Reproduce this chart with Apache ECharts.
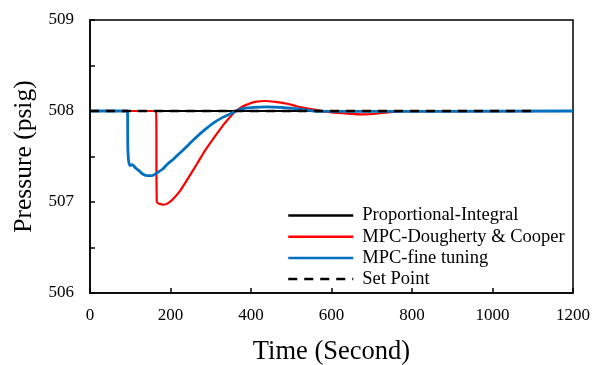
<!DOCTYPE html>
<html>
<head>
<meta charset="utf-8">
<script src="https://cdn.jsdelivr.net/npm/echarts@6/dist/echarts.min.js"></script>
<style>
  html, body { margin: 0; padding: 0; background: #fff; }
  #chart { width: 592px; height: 365px; }
</style>
</head>
<body>
<div id="chart"></div>
<script>
// time (s) and pressure (psig)
const piTime = [0, 1200];
const piPressure = [508, 508];

const redTime = [0, 164, 166, 172, 183, 195, 210, 225, 245, 266, 285, 307, 330, 349, 360, 375, 390, 410, 436, 460, 490, 515, 550, 590, 630, 680, 710, 740, 780, 1200];
const redPressure = [508, 508, 507.0, 506.98, 506.97, 506.99, 507.05, 507.13, 507.27, 507.42, 507.56, 507.70, 507.84, 507.94, 507.99, 508.04, 508.07, 508.10, 508.11, 508.10, 508.08, 508.05, 508.02, 507.99, 507.975, 507.963, 507.97, 507.985, 507.997, 508];

const blueTime = [0, 93, 94, 96, 100, 104, 108, 114, 120, 130, 141, 154, 166, 180, 191, 207, 224, 245, 266, 287, 307, 330, 349, 374, 407, 440, 473, 510, 556, 600, 1200];
const bluePressure = [508, 508, 507.6, 507.45, 507.40, 507.41, 507.40, 507.37, 507.35, 507.31, 507.29, 507.29, 507.32, 507.36, 507.41, 507.47, 507.54, 507.63, 507.72, 507.80, 507.87, 507.93, 507.97, 508.02, 508.04, 508.045, 508.04, 508.025, 508.0, 507.995, 508];

const setTime = [0, 1100];
const setPressure = [508, 508];

const seriesNames = ['Proportional-Integral', 'MPC-Dougherty & Cooper', 'MPC-fine tuning', 'Set Point'];

const pairs = (xs, ys) => xs.map((x, i) => [x, ys[i]]);
const font = 'Liberation Serif';

const chart = echarts.init(document.getElementById('chart'));
chart.setOption({
  animation: false,
  backgroundColor: '#fff',
  grid: {
    left: 90, right: 19, top: 20, bottom: 72,
    outerBoundsMode: 'none',
    show: true, borderColor: '#000', borderWidth: 1.5
  },
  legend: {
    orient: 'vertical',
    left: 282, top: 201,
    itemWidth: 65, itemHeight: 14, itemGap: 2.2,
    data: seriesNames,
    itemStyle: { opacity: 0 },
    lineStyle: { width: 2.5 },
    textStyle: { fontFamily: font, fontSize: 18.5, lineHeight: 18.5, color: '#000', padding: [0, 0, 0, 4] }
  },
  xAxis: {
    type: 'value', min: 0, max: 1200, interval: 200,
    name: 'Time (Second)', nameLocation: 'middle', nameGap: 46,
    nameTextStyle: { fontFamily: font, fontSize: 26.5, color: '#000' },
    axisLine: { lineStyle: { color: '#000', width: 1.5 } },
    axisTick: { inside: true, length: 5, lineStyle: { color: '#000', width: 1.5 } },
    axisLabel: { fontFamily: font, fontSize: 17, color: '#000', margin: 14, formatter: v => String(v) },
    splitLine: { show: false }
  },
  yAxis: {
    type: 'value', min: 506, max: 509, interval: 0.5,
    name: 'Pressure (psig)', nameLocation: 'middle', nameGap: 51,
    nameTextStyle: { fontFamily: font, fontSize: 25.5, color: '#000' },
    axisLine: { lineStyle: { color: '#000', width: 1.5 } },
    axisTick: { inside: true, length: 5, lineStyle: { color: '#000', width: 1.5 } },
    axisLabel: {
      fontFamily: font, fontSize: 17, color: '#000', margin: 16,
      formatter: v => (Math.abs(v - Math.round(v)) < 1e-6 ? String(Math.round(v)) : '')
    },
    splitLine: { show: false }
  },
  series: [
    {
      name: seriesNames[0], type: 'line', symbol: 'none',
      data: pairs(piTime, piPressure),
      lineStyle: { color: '#000', width: 1.8 }, itemStyle: { color: '#000' }
    },
    {
      name: seriesNames[1], type: 'line', symbol: 'none', smooth: 0.3,
      data: pairs(redTime, redPressure),
      lineStyle: { color: '#ff0000', width: 2.2 }, itemStyle: { color: '#ff0000' }
    },
    {
      name: seriesNames[2], type: 'line', symbol: 'none', smooth: 0.3,
      data: pairs(blueTime, bluePressure),
      lineStyle: { color: '#0070c0', width: 2.8 }, itemStyle: { color: '#0070c0' }
    },
    {
      name: seriesNames[3], type: 'line', symbol: 'none',
      data: pairs(setTime, setPressure),
      lineStyle: { color: '#000', width: 2.5, type: [9, 7] }, itemStyle: { color: '#000' }
    }
  ]
});
</script>
</body>
</html>
